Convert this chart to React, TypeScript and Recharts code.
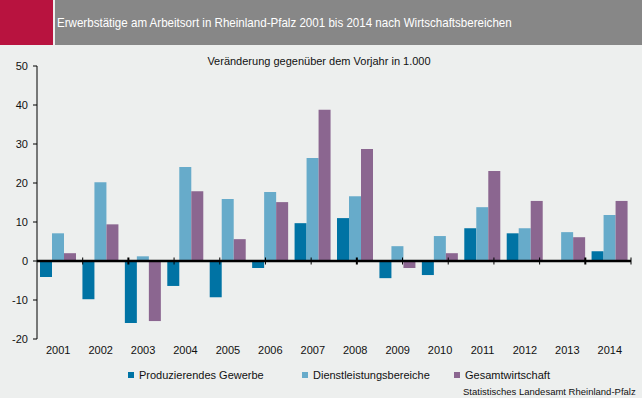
import { BarChart, Bar, XAxis, YAxis, ReferenceLine } from 'recharts'

const years = ['2001', '2002', '2003', '2004', '2005', '2006', '2007', '2008', '2009', '2010', '2011', '2012', '2013', '2014']
const produzierendes = [-4.1, -9.8, -15.9, -6.4, -9.3, -1.8, 9.7, 11.0, -4.4, -3.6, 8.4, 7.1, 0, 2.5]
const dienstleistung = [7.1, 20.2, 1.2, 24.1, 15.9, 17.7, 26.4, 16.6, 3.8, 6.4, 13.8, 8.4, 7.4, 11.8]
const gesamt = [2.0, 9.4, -15.4, 17.9, 5.6, 15.1, 38.8, 28.7, -1.8, 2.0, 23.1, 15.4, 6.1, 15.4]
const yTicks = [-20, -10, 0, 10, 20, 30, 40, 50]
const boundaries = [1, 2, 3, 4, 5, 6, 7, 8, 9, 10, 11, 12, 13, 14]
const thickBoundaries = [2, 7, 12, 14]

const data = years.map((year, i) => ({
  year,
  prod: produzierendes[i],
  dienst: dienstleistung[i],
  gesamt: gesamt[i],
}))

const COLORS = { prod: '#0073a4', dienst: '#67abca', gesamt: '#8b6690' }
const FONT = '"Liberation Sans", Arial, sans-serif'

const legendItems = [
  { label: 'Produzierendes Gewerbe', color: COLORS.prod, left: 128 },
  { label: 'Dienstleistungsbereiche', color: COLORS.dienst, left: 302 },
  { label: 'Gesamtwirtschaft', color: COLORS.gesamt, left: 454 },
]

export default function App() {
  return (
    <div style={{ position: 'absolute', left: 0, top: 0, width: 642, height: 398, background: '#edefee', fontFamily: FONT, overflow: 'hidden' }}>
      <div style={{ position: 'absolute', left: 0, top: 0, width: 53, height: 45, background: '#b8133f' }} />
      <div style={{ position: 'absolute', left: 55, top: 0, width: 587, height: 45, background: '#878787' }} />
      <div
        style={{
          position: 'absolute',
          left: 57,
          top: 15,
          color: '#ffffff',
          fontSize: 13,
          whiteSpace: 'nowrap',
          transform: 'scaleX(0.89)',
          transformOrigin: 'left center',
        }}
      >
        Erwerbstätige am Arbeitsort in Rheinland-Pfalz 2001 bis 2014 nach Wirtschaftsbereichen
      </div>
      <div style={{ position: 'absolute', left: 0, width: 638, top: 55, textAlign: 'center', fontSize: 11, color: '#111' }}>
        Veränderung gegenüber dem Vorjahr in 1.000
      </div>

      <div style={{ position: 'absolute', left: 0, top: 0 }}>
        <BarChart
          width={642}
          height={398}
          data={data}
          margin={{ top: 66, right: 11, bottom: 29, left: 0 }}
          barGap={0}
          barSize={12}
        >
          <XAxis
            dataKey="year"
            height={30}
            axisLine={false}
            tickLine={false}
            tickSize={0}
            tickMargin={7}
            interval={0}
            tick={{ fontSize: 11, fill: '#111', fontFamily: FONT }}
          />
          <XAxis xAxisId="n" type="number" domain={[0, 14]} hide />
          <YAxis
            domain={[-20, 50]}
            ticks={yTicks}
            width={37}
            tickSize={4}
            tickMargin={5}
            axisLine={{ stroke: '#000' }}
            tickLine={{ stroke: '#000' }}
            tick={{ fontSize: 11, fill: '#111', fontFamily: FONT }}
            interval={0}
          />
          <Bar dataKey="prod" fill={COLORS.prod} isAnimationActive={false} />
          <Bar dataKey="dienst" fill={COLORS.dienst} isAnimationActive={false} />
          <Bar dataKey="gesamt" fill={COLORS.gesamt} isAnimationActive={false} />
          <ReferenceLine y={0} stroke="#000" strokeWidth={2.5} />
          {boundaries.map((b) => (
            <ReferenceLine
              key={b}
              xAxisId="n"
              segment={[
                { x: b, y: -0.9 },
                { x: b, y: 0.9 },
              ]}
              stroke="#000"
              strokeWidth={thickBoundaries.includes(b) ? 2 : 1}
            />
          ))}
        </BarChart>
      </div>

      {legendItems.map((it) => (
        <div key={it.label} style={{ position: 'absolute', left: it.left, top: 369, display: 'flex', alignItems: 'center', fontSize: 11, color: '#111', whiteSpace: 'nowrap' }}>
          <span style={{ display: 'inline-block', width: 6, height: 6, background: it.color, marginRight: 5 }} />
          {it.label}
        </div>
      ))}
      <div style={{ position: 'absolute', left: 463, top: 386, fontSize: 9.5, color: '#111', whiteSpace: 'nowrap' }}>
        Statistisches Landesamt Rheinland-Pfalz
      </div>
    </div>
  )
}
